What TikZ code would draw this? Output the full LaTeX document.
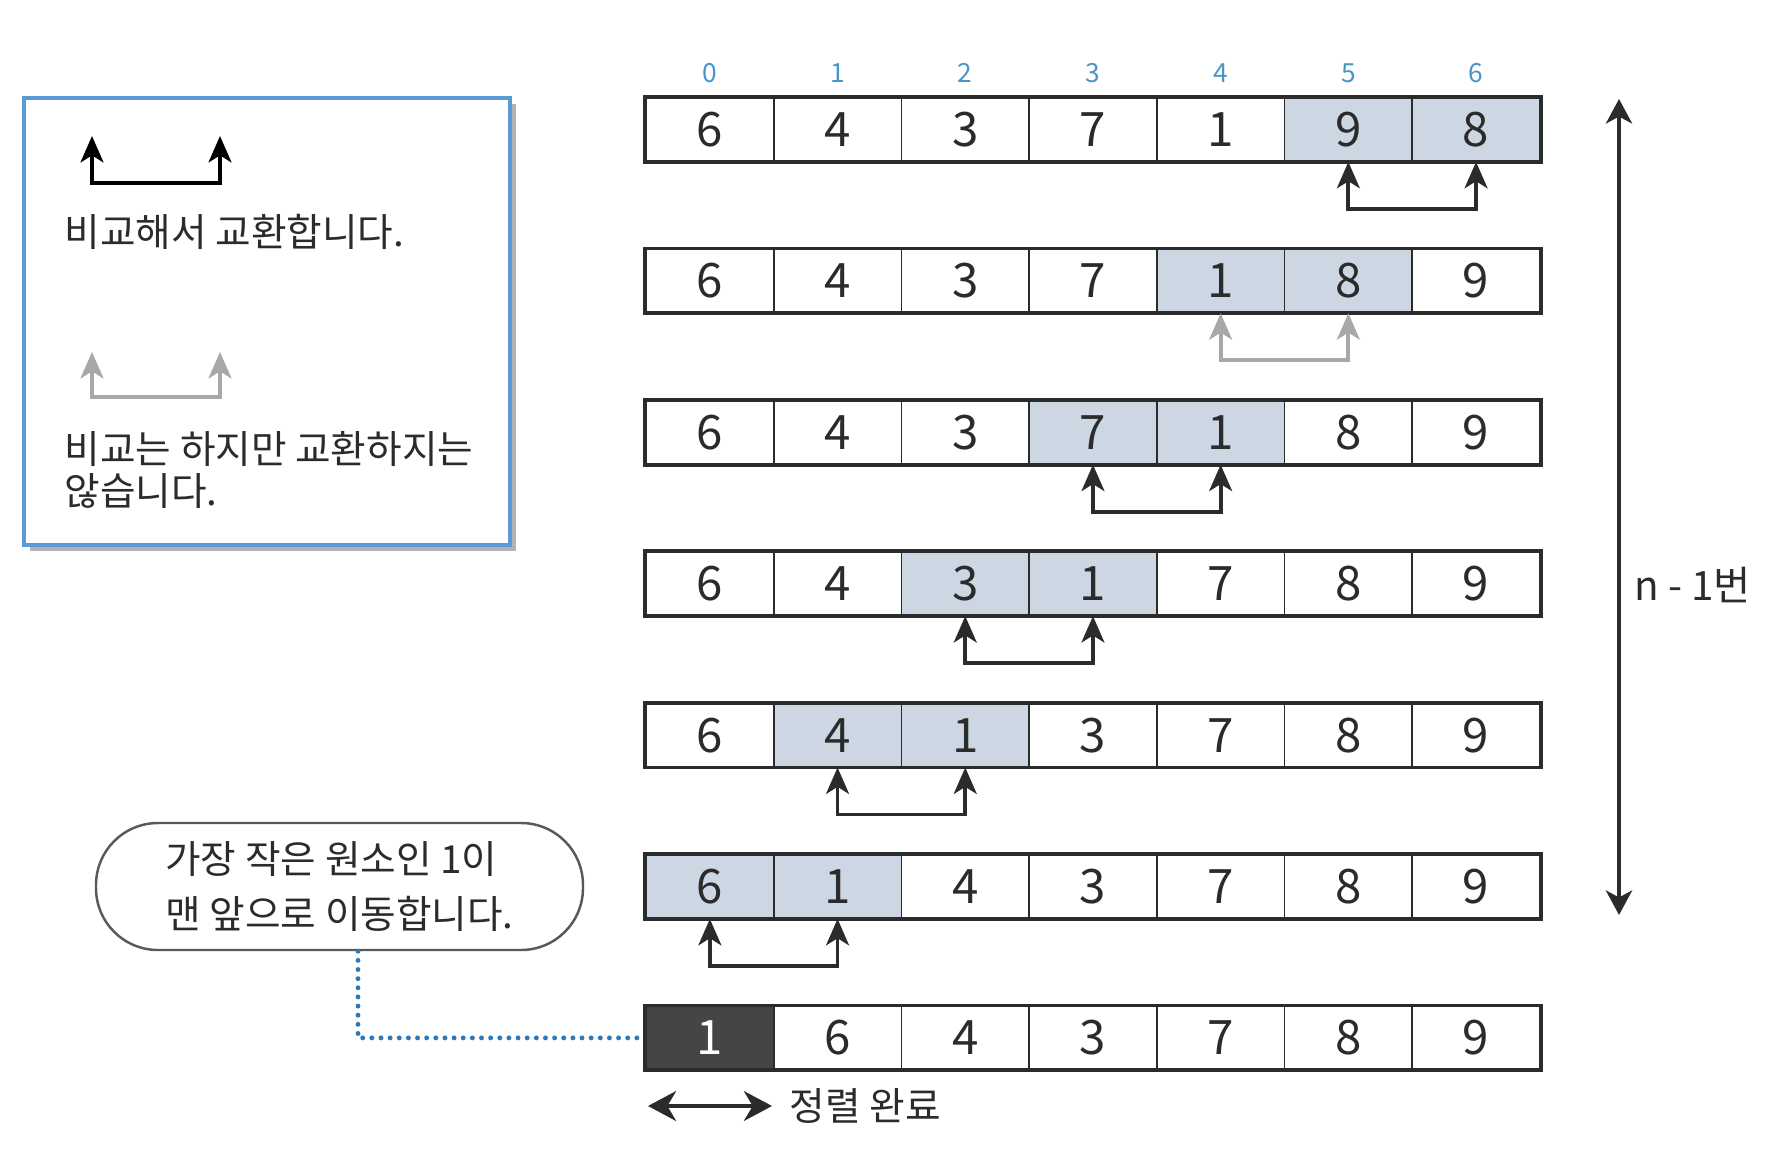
\documentclass[tikz,border=0pt]{standalone}
\usepackage{fontspec}
\setmainfont{Noto Sans CJK KR}
\usetikzlibrary{arrows.meta,positioning}
\definecolor{hilite}{HTML}{CDD7E3}
\definecolor{darkcell}{HTML}{454545}
\definecolor{idxblue}{HTML}{4A95C8}
\definecolor{boxblue}{HTML}{5B9BD5}
\definecolor{dotblue}{HTML}{2F78B8}
\definecolor{nogray}{HTML}{A8A8A8}
\definecolor{ink}{HTML}{2B2B2B}
\tikzset{
 cell/.style={draw=ink,line width=0.5pt,minimum width=1.277cm,minimum height=0.63cm,
   inner sep=0pt,text=ink,font=\fontsize{13.5}{14}\selectfont},
 idx/.style={text=idxblue,inner sep=0pt,font=\fontsize{7.5}{8}\selectfont},
 swaparr/.style={line width=1.1pt,{Stealth[length=7.5pt,width=6.5pt,inset=2pt]}-{Stealth[length=7.5pt,width=6.5pt,inset=2pt]}},
 bigarr/.style={line width=0.9pt,{Stealth[length=7pt,width=7.5pt,inset=2pt]}-{Stealth[length=7pt,width=7.5pt,inset=2pt]}},
 note/.style={text=ink,inner sep=0pt,font=\fontsize{11}{12.2}\selectfont},
 bubble/.style={draw=black!65,line width=0.7pt,rounded corners=0.62cm,minimum width=4.87cm,
   minimum height=1.27cm,align=left,text=ink,font=\fontsize{11}{15.6}\selectfont},
 dotline/.style={dotblue,line width=1.4pt,line cap=round,dash pattern=on 0pt off 2.6pt}
}
\begin{document}
\begin{tikzpicture}
\useasboundingbox (0,0) rectangle (17.67,-11.52);
%
\begin{scope} % legend
\fill[black!30] (0.30,-1.04) rectangle (5.16,-5.51);
\draw[boxblue,line width=1pt,fill=white] (0.24,-0.98) rectangle (5.10,-5.45);
\coordinate (k1) at (0.92,-1.36);
\coordinate (k2) at (2.20,-1.36);
\draw[swaparr] (k1)--++(0,-0.47)-|(k2);
\node[note,anchor=west] (swapyes) at (0.64,-2.32) {비교해서 교환합니다.};
\coordinate (k3) at (0.92,-3.52);
\coordinate (k4) at (2.20,-3.52);
\draw[swaparr,nogray] (k3)--++(0,-0.45)-|(k4);
\node[note,anchor=west,align=left] (swapno) at (0.64,-4.70) {비교는 하지만 교환하지는\\않습니다.};
\end{scope}
%
%
\begin{scope} % the seven rows
\foreach \r/\vals/\hl in {0/{6,4,3,7,1,9,8}/5,1/{6,4,3,7,1,8,9}/4,2/{6,4,3,7,1,8,9}/3,
  3/{6,4,3,1,7,8,9}/2,4/{6,4,1,3,7,8,9}/1,5/{6,1,4,3,7,8,9}/0,6/{1,6,4,3,7,8,9}/-1}{
 \foreach \v [count=\i from 0] in \vals {
  \pgfmathtruncatemacro\inhl{(\i==\hl)||(\i==\hl+1)}
  \pgfmathtruncatemacro\isdone{(\hl<0)&&(\i==0)}
  \ifnum\isdone=1 \tikzset{cur/.style={fill=darkcell,text=white}}
  \else\ifnum\inhl=1 \tikzset{cur/.style={fill=hilite}}
  \else\tikzset{cur/.style={fill=white}}\fi\fi
  \node[cell,cur] (r\r-\i) at ({6.46+1.277*(\i+0.5)},{-1.295-1.514*\r}) {\v};
 }
 \draw[ink,line width=1.1pt] (r\r-0.north west) rectangle (r\r-6.south east);
}
\foreach \i in {0,...,6}
\node[idx,above=0.14cm of r0-\i] (ix\i) {\i};
\end{scope}
%
\begin{scope} % swaps under the rows
\foreach \r/\a/\b/\col in {0/5/6/ink,1/4/5/nogray,2/3/4/ink,3/2/3/ink,4/1/2/ink,5/0/1/ink}
\draw[swaparr,\col] (r\r-\a.south)--++(0,-0.47)-|(r\r-\b.south);
\end{scope}
%
\begin{scope} % n-1 passes
\coordinate (ptop) at (16.19,-0.99);
\coordinate (pbot) at (16.19,-9.15);
\draw[bigarr,ink] (ptop)--(pbot);
\node[note,anchor=west,font=\fontsize{11.5}{12}\selectfont] (passes) at (16.34,-5.85) {n - 1번};
\end{scope}
%
\begin{scope} % callout
\node[bubble] (msg) at (3.395,-8.865) {가장 작은 원소인 1이\\맨 앞으로 이동합니다.};
\coordinate (bend) at (3.58,-10.379);
\draw[dotline] (msg.south -| bend)--(bend)--(r6-0.west);
\end{scope}
%
\begin{scope} % sorted part
\coordinate (dl) at (6.48,-11.06);
\coordinate (dr) at (7.72,-11.06);
\draw[ink,line width=1pt,{Stealth[length=8pt,width=8.5pt,inset=2.5pt]}-{Stealth[length=8pt,width=8.5pt,inset=2.5pt]}] (dl)--(dr);
\node[note,right=0.17cm of dr] (done) {정렬 완료};
\end{scope}
%
\end{tikzpicture}
\end{document}
